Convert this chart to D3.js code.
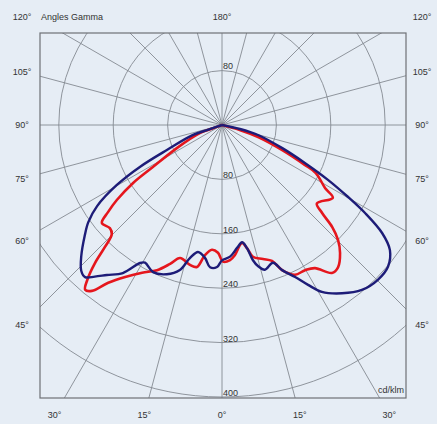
<!DOCTYPE html>
<html>
<head>
<meta charset="utf-8">
<script src="https://d3js.org/d3.v7.min.js"></script>
<style>
body { margin: 0; background: #e6edf5; }
text { font-family: "Liberation Sans", Arial, sans-serif; font-size: 9px; fill: #333; }
</style>
</head>
<body>
<script>
// intensity rings (cd/klm)
var rings = [80, 160, 240, 320, 400];
// gamma labels
var sideAngles = [120, 105, 90, 75, 60, 45];
var bottomAngles = [-30, -15, 0, 15, 30];

// C-plane 1 (blue): gamma (deg, 0 = nadir, + to the right) and intensity
var blueGamma = [-80, -71, -71, -65.6, -63, -60.3, -57, -54, -51, -47, -44, -42, -40, -37.5, -33.8, -30.7, -29.2, -25.1, -20.3, -16.2, -13.5, -10.7, -7.3, -4.8, -2, 0, 3.5, 7, 9.7, 11.5, 12.9, 14.3, 16.5, 20.3, 22.5, 25.7, 28.3, 30.9, 35.5, 40.3, 45.2, 49.5, 53.3, 56, 58.4, 60.3, 62.6, 65.4, 69, 74.5, 77.5, 80];
var blueCd = [0, 20, 45, 89, 135, 178, 219, 243, 260, 283, 298, 301, 291, 278, 262, 236, 232, 239, 234, 222, 201, 190, 197, 210, 209, 199, 194, 182, 175, 185, 204, 214, 222, 216, 231, 248, 267, 286, 304, 318, 323, 321, 308, 284, 247, 213, 176, 134, 95, 55, 27, 0];

// C-plane 2 (red)
var redGamma = [-75, -70, -70, -63, -58.7, -56.9, -54.5, -52.6, -50.8, -47.4, -45.3, -43.8, -42.6, -41, -39.7, -38.1, -35.8, -32.5, -28.4, -24.1, -20.5, -17.5, -12.9, -10, -7.5, -4.6, -1.8, 0.4, 3.4, 5.7, 9.6, 11.5, 13.2, 17, 20.2, 22.5, 26, 29.8, 33, 36.6, 39.2, 42.7, 45.3, 47.2, 48.7, 50.4, 56.7, 58.5, 62.9, 64.3, 67.4, 71.6, 74.5, 80];
var redCd = [0, 15, 34, 74, 119, 156, 190, 211, 228, 224, 228, 249, 276, 302, 315, 310, 286, 265, 247, 234, 218, 205, 211, 212, 193, 184, 188, 201, 199, 192, 176, 185, 199, 206, 213, 231, 245, 246, 251, 271, 270, 256, 240, 221, 196, 181, 195, 178, 155, 135, 96, 56, 27, 0];

var W = 437, H = 424;
var cx = 222, cy = 125;
var frame = {x0: 40, y0: 33, x1: 406, y1: 398};

var r = d3.scaleLinear().domain([0, 400]).range([0, 272]);
var rad = function(g) { return (180 - g) * Math.PI / 180; };

var svg = d3.select("body").append("svg")
  .attr("width", W).attr("height", H);

svg.append("rect").attr("width", W).attr("height", H).attr("fill", "#e6edf5");

svg.append("clipPath").attr("id", "clip")
  .append("rect")
  .attr("x", frame.x0).attr("y", frame.y0)
  .attr("width", frame.x1 - frame.x0).attr("height", frame.y1 - frame.y0);

var grid = svg.append("g").attr("clip-path", "url(#clip)");
var center = grid.append("g").attr("transform", "translate(" + cx + "," + cy + ")");

center.selectAll("circle.ring").data(rings).enter().append("circle")
  .attr("class", "ring")
  .attr("r", d => r(d))
  .attr("fill", "none")
  .attr("stroke", "#858a92")
  .attr("stroke-width", 0.9);

var rays = d3.range(0, 360, 15);
center.selectAll("line.ray").data(rays).enter().append("line")
  .attr("x1", 0).attr("y1", 0)
  .attr("x2", d => 600 * Math.sin(d * Math.PI / 180))
  .attr("y2", d => 600 * Math.cos(d * Math.PI / 180))
  .attr("stroke", "#858a92")
  .attr("stroke-width", 0.9);

// curves
var line = d3.lineRadial().curve(d3.curveCatmullRom.alpha(0.5));
var redPts = redGamma.map((g, i) => [rad(g), r(redCd[i])]);
var bluePts = blueGamma.map((g, i) => [rad(g), r(blueCd[i])]);

center.append("path").attr("d", line(redPts))
  .attr("fill", "none").attr("stroke", "#e5161d").attr("stroke-width", 2.6)
  .attr("stroke-linejoin", "round");
center.append("path").attr("d", line(bluePts))
  .attr("fill", "none").attr("stroke", "#1d1c78").attr("stroke-width", 2.4)
  .attr("stroke-linejoin", "round");

// frame
svg.append("rect")
  .attr("x", frame.x0).attr("y", frame.y0)
  .attr("width", frame.x1 - frame.x0).attr("height", frame.y1 - frame.y0)
  .attr("fill", "none").attr("stroke", "#6e7176").attr("stroke-width", 1.2);

// ring labels
svg.append("text").attr("x", cx + 1).attr("y", cy - r(80) - 2).text("80");
svg.selectAll("text.rl").data(rings).enter().append("text")
  .attr("class", "rl")
  .attr("x", cx + 1)
  .attr("y", d => cy + r(d) - 1)
  .text(d => d);

// side gamma labels
sideAngles.forEach(function(a) {
  var t = Math.tan((a - 90) * Math.PI / 180);
  var y = Math.max(17, cy - 200 * t);
  [-1, 1].forEach(function(s) {
    svg.append("text")
      .attr("x", cx + s * 200).attr("y", y)
      .attr("text-anchor", "middle").attr("dy", "0.35em")
      .text(a + "°");
  });
});

bottomAngles.forEach(function(a) {
  svg.append("text")
    .attr("x", cx + 290 * Math.tan(a * Math.PI / 180)).attr("y", 415)
    .attr("text-anchor", "middle").attr("dy", "0.35em")
    .text(Math.abs(a) + "°");
});

svg.append("text").attr("x", cx).attr("y", 17).attr("dy", "0.35em")
  .attr("text-anchor", "middle").text("180°");
svg.append("text").attr("x", 41).attr("y", 17).attr("dy", "0.35em").text("Angles Gamma");
svg.append("text").attr("x", frame.x1 - 2).attr("y", frame.y1 - 5)
  .attr("text-anchor", "end").text("cd/klm");
</script>
</body>
</html>
